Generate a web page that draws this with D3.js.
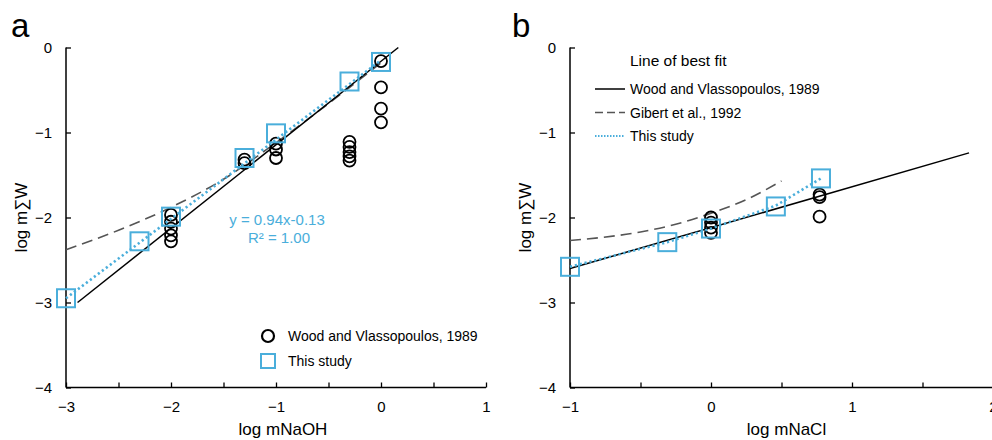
<!DOCTYPE html>
<html><head><meta charset="utf-8">
<script src="https://cdn.jsdelivr.net/npm/d3@7"></script>
<style>
html,body{margin:0;padding:0;background:#fff;}
svg{display:block;font-family:"Liberation Sans",Arial,sans-serif;}
</style></head>
<body>
<svg id="c" width="992" height="440"></svg>
<script>
// ---------- Panel a data ----------
const aWoodX = [-2, -2, -2, -2, -2, -1.3, -1.3, -1, -1, -1, -0.3, -0.3, -0.3, -0.3, -0.3, 0, 0, 0, 0];
const aWoodY = [-1.97, -2.05, -2.13, -2.21, -2.28, -1.32, -1.36, -1.13, -1.20, -1.30, -1.11, -1.17, -1.23, -1.28, -1.33, -0.16, -0.47, -0.72, -0.88];
const aStudyX = [-3, -2.3, -2, -1.3, -1, -0.3, 0];
const aStudyY = [-2.95, -2.28, -1.99, -1.30, -1.01, -0.40, -0.17];
const aWoodLineX = [-2.89, 0.165];
const aWoodLineY = [-3.0, 0.0];
const aGibertX = [-3, -2.5, -2, -1.5, -1, -0.5, 0];
const aGibertY = [-2.38, -2.15, -1.88, -1.55, -1.12, -0.66, -0.18];
const aFitX = [-3, 0];
const aFitY = [-2.95, -0.15];
const aXTicks = [-3, -2, -1, 0, 1];
const aXMinor = [-2.5, -1.5, -0.5, 0.5];
const yTicks = [0, -1, -2, -3, -4];
const eqText = ["y = 0.94x-0.13", "R² = 1.00"];

// ---------- Panel b data ----------
const bWoodX = [0, 0, 0, 0, 0.77, 0.77, 0.77];
const bWoodY = [-2.00, -2.06, -2.12, -2.18, -1.73, -1.76, -1.99];
const bStudyX = [-1, -0.31, 0, 0.46, 0.78];
const bStudyY = [-2.58, -2.29, -2.13, -1.87, -1.54];
const bWoodLineX = [-1, 1.83];
const bWoodLineY = [-2.6, -1.24];
const bGibertX = [-1, -0.5, -0.25, 0, 0.25, 0.5];
const bGibertY = [-2.27, -2.17, -2.08, -1.95, -1.79, -1.57];
const bFitX = [-1, -0.31, 0, 0.46, 0.78];
const bFitY = [-2.58, -2.29, -2.13, -1.86, -1.54];
const bXTicks = [-1, 0, 1, 2];
const bXMinor = [-0.5, 0.5, 1.5];
const bLegend = ["Wood and Vlassopoulos, 1989", "Gibert et al., 1992", "This study"];
const aLegend = ["Wood and Vlassopoulos, 1989", "This study"];

const BLUE = "#4aaedb";
const GRAY = "#555555";
const svg = d3.select("#c");

function panel(opts) {
  const g = svg.append("g");
  const x = d3.scaleLinear().domain(opts.xd).range(opts.xr);
  const y = d3.scaleLinear().domain([-4, 0]).range([387.5, 47.5]);
  const line = d3.line().x(d => x(d[0])).y(d => y(d[1]));
  const zip = (a, b) => a.map((v, i) => [v, b[i]]);

  // axes
  const xAx = d3.axisBottom(x).tickValues(opts.xTicks).tickSize(-5).tickPadding(14).tickFormat(d3.format("d"));
  const xg = g.append("g").attr("transform", `translate(0,${y(-4)})`).call(xAx);
  const xm = d3.axisBottom(x).tickValues(opts.xMinor).tickSize(-5).tickFormat("");
  g.append("g").attr("transform", `translate(0,${y(-4)})`).call(xm).select(".domain").remove();
  const yAx = d3.axisLeft(y).tickValues(yTicks).tickSize(-5).tickPadding(14).tickFormat(d3.format("d"));
  const yg = g.append("g").attr("transform", `translate(${opts.xr[0]},0)`).call(yAx);
  [xg, yg].forEach(a => {
    a.select(".domain").attr("stroke", "#000").attr("stroke-width", 1.5);
    a.selectAll(".tick text").attr("font-size", 15).attr("fill", "#000").attr("font-family", "Liberation Sans, Arial, sans-serif");
  });
  g.selectAll(".tick line").attr("stroke", "#000").attr("stroke-width", 1.3);
  xg.select(".domain").attr("d", `M${opts.xr[0]},0H${opts.xr[1]}`);
  yg.select(".domain").attr("d", `M0,${y(-4)}V${y(0)}`);

  // axis titles
  g.append("text").attr("x", (opts.xr[0] + opts.xr[1]) / 2 + opts.xtOff).attr("y", 435)
    .attr("text-anchor", "middle").attr("font-size", 17).text(opts.xTitle);
  g.append("text").attr("transform", `translate(${opts.ytX},${y(-2)}) rotate(-90)`)
    .attr("text-anchor", "middle").attr("font-size", 17).text("log m∑W");
  g.append("text").attr("x", opts.letterX).attr("y", 37).attr("font-size", 33).text(opts.letter);

  // lines
  g.append("path").datum(zip(opts.gibX, opts.gibY)).attr("d", line.curve(d3.curveMonotoneX))
    .attr("fill", "none").attr("stroke", GRAY).attr("stroke-width", 1.6).attr("stroke-dasharray", "11,6");
  g.append("path").datum(zip(opts.woodLX, opts.woodLY)).attr("d", d3.line().x(d => x(d[0])).y(d => y(d[1])))
    .attr("fill", "none").attr("stroke", "#000").attr("stroke-width", 1.5);

  // circles
  g.selectAll("circle.w").data(zip(opts.woodX, opts.woodY)).join("circle")
    .attr("cx", d => x(d[0])).attr("cy", d => y(d[1])).attr("r", 6)
    .attr("fill", "none").attr("stroke", "#000").attr("stroke-width", 1.8);
  // squares
  g.selectAll("rect.s").data(zip(opts.stX, opts.stY)).join("rect")
    .attr("x", d => x(d[0]) - 9).attr("y", d => y(d[1]) - 9).attr("width", 18).attr("height", 18)
    .attr("fill", "none").attr("stroke", BLUE).attr("stroke-width", 2);
  // fit
  g.append("path").datum(zip(opts.fitX, opts.fitY)).attr("d", d3.line().x(d => x(d[0])).y(d => y(d[1])))
    .attr("fill", "none").attr("stroke", BLUE).attr("stroke-width", 2.6).attr("stroke-dasharray", "2.2,2.8");
  return {g, x, y};
}

const A = panel({
  xd: [-3, 1], xr: [66, 486], xTicks: aXTicks, xMinor: aXMinor, xTitle: "log mNaOH", xtOff: 7,
  ytX: 27, letter: "a", letterX: 11,
  woodX: aWoodX, woodY: aWoodY, stX: aStudyX, stY: aStudyY,
  woodLX: aWoodLineX, woodLY: aWoodLineY, gibX: aGibertX, gibY: aGibertY, fitX: aFitX, fitY: aFitY
});
const B = panel({
  xd: [-1, 2], xr: [570, 993], xTicks: bXTicks, xMinor: bXMinor, xTitle: "log mNaCl", xtOff: 5,
  ytX: 531, letter: "b", letterX: 512,
  woodX: bWoodX, woodY: bWoodY, stX: bStudyX, stY: bStudyY,
  woodLX: bWoodLineX, woodLY: bWoodLineY, gibX: bGibertX, gibY: bGibertY, fitX: bFitX, fitY: bFitY
});

// equation panel a
A.g.append("text").attr("x", 277).attr("y", 225).attr("text-anchor", "middle")
  .attr("font-size", 15).attr("fill", BLUE).text(eqText[0]);
A.g.append("text").attr("x", 279).attr("y", 243).attr("text-anchor", "middle")
  .attr("font-size", 15).attr("fill", BLUE).text(eqText[1]);

// legend panel a
A.g.append("circle").attr("cx", 268).attr("cy", 336).attr("r", 6)
  .attr("fill", "none").attr("stroke", "#000").attr("stroke-width", 2.2);
A.g.append("rect").attr("x", 261).attr("y", 354).attr("width", 14).attr("height", 14)
  .attr("fill", "none").attr("stroke", BLUE).attr("stroke-width", 2);
aLegend.forEach((t, i) => A.g.append("text").attr("x", 288).attr("y", 341 + i * 25)
  .attr("font-size", 14).text(t));

// legend panel b
B.g.append("text").attr("x", 630).attr("y", 66).attr("font-size", 15.5).text("Line of best fit");
const lStyles = [{c: "#000", d: null, w: 1.5}, {c: GRAY, d: "8,4", w: 1.6}, {c: BLUE, d: "1.5,1.5", w: 2}];
bLegend.forEach((t, i) => {
  const yy = 89 + i * 23.5;
  const l = B.g.append("line").attr("x1", 595).attr("x2", 625).attr("y1", yy).attr("y2", yy)
    .attr("stroke", lStyles[i].c).attr("stroke-width", lStyles[i].w);
  if (lStyles[i].d) l.attr("stroke-dasharray", lStyles[i].d);
  B.g.append("text").attr("x", 630).attr("y", yy + 5).attr("font-size", 14).text(t);
});
</script>
</body></html>
